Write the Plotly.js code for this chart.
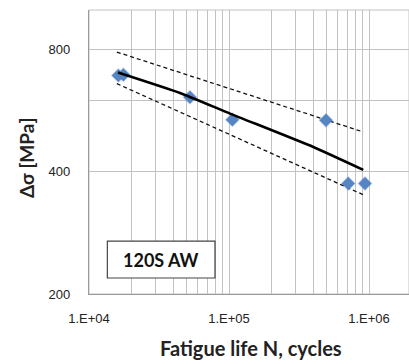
<!DOCTYPE html>
<html>
<head>
<meta charset="utf-8">
<script src="https://cdn.plot.ly/plotly-3.0.1.min.js"></script>
<style>html,body{margin:0;padding:0;background:#fff;}#chart{width:409px;height:364px;}</style>
</head>
<body>
<div id="chart"></div>
<script>
// Test data (cycles, stress range MPa)
const testN = [16200, 17600, 52600, 105700, 493000, 711000, 936000];
const testS = [690, 693, 610, 537, 535, 374, 374];
// Mean S-N curve
const meanN = [16100, 44700, 101700, 400000, 910000];
const meanS = [702, 625, 556, 460, 404];
// Scatter band limits
const upperN = [15800, 910000];
const upperS = [788, 501];
const lowerN = [15800, 910000];
const lowerS = [659, 351];
// Axis ticks
const xTickVals = [1e4,2e4,3e4,4e4,5e4,6e4,7e4,8e4,9e4,1e5,2e5,3e5,4e5,5e5,6e5,7e5,8e5,9e5,1e6,2e6];
const xTickText = ['1.E+04','','','','','','','','','1.E+05','','','','','','','','','1.E+06',''];
const yTickVals = [200, 400, 600, 800, 1000];
const yTickText = ['200', '400', '', '800', ''];
const boxLabel = '120S AW';
const xTitle = 'Fatigue life N, cycles';
const yTitle = 'Δσ [MPa]';

const traces = [
  {x: upperN, y: upperS, mode: 'lines', line: {color: '#111', width: 1.3, dash: '4px,3px'}, hoverinfo: 'skip'},
  {x: lowerN, y: lowerS, mode: 'lines', line: {color: '#111', width: 1.3, dash: '4px,3px'}, hoverinfo: 'skip'},
  {x: testN, y: testS, mode: 'markers', marker: {symbol: 'diamond', size: 10, color: '#5585c2', line: {color: 'rgba(85,133,194,0.35)', width: 1.5}}},
  {x: meanN, y: meanS, mode: 'lines', line: {color: '#000', width: 2.6, shape: 'spline', smoothing: 0.5}, hoverinfo: 'skip'}
];

const layout = {
  width: 409, height: 364,
  margin: {l: 89, r: 0, t: 10, b: 70},
  paper_bgcolor: '#fff', plot_bgcolor: '#fff',
  showlegend: false,
  font: {family: 'Liberation Sans, Arial, sans-serif', size: 13, color: '#222'},
  xaxis: {
    type: 'log', range: [4, 6.2857],
    tickvals: xTickVals, ticktext: xTickText,
    showgrid: true, gridcolor: '#c2c2c2', gridwidth: 1,
    showline: true, linecolor: '#9a9a9a', linewidth: 1.2,
    ticks: 'outside', ticklen: 12, tickcolor: 'rgba(0,0,0,0)',
    tickfont: {size: 13, color: '#222'},
    zeroline: false
  },
  yaxis: {
    type: 'log', range: [Math.log10(200), Math.log10(1000)],
    tickvals: yTickVals, ticktext: yTickText,
    showgrid: true, gridcolor: '#c2c2c2', gridwidth: 1,
    showline: true, linecolor: '#9a9a9a', linewidth: 1.2,
    ticks: 'outside', ticklen: 15, tickcolor: 'rgba(0,0,0,0)',
    tickfont: {size: 13, color: '#222'},
    zeroline: false
  },
  shapes: [
    {type: 'rect', xref: 'paper', yref: 'paper', x0: 0, x1: 1, y0: 0, y1: 1, line: {color: '#c2c2c2', width: 1}, layer: 'below'},
    {type: 'rect', xref: 'x', yref: 'y', x0: 13520, x1: 79400, y0: 219, y1: 270, fillcolor: '#fff', line: {color: '#444', width: 1.2}, layer: 'above'}
  ],
  annotations: [
    {xref: 'x', yref: 'y', x: Math.log10(Math.sqrt(13520*79400)), y: Math.log10(Math.sqrt(219*270)), text: '<b>' + boxLabel + '</b>', showarrow: false,
     font: {family: 'Lato, sans-serif', size: 18, color: '#111'}},
    {xref: 'paper', yref: 'paper', x: 0.506, y: -0.19, yanchor: 'middle', xanchor: 'center', text: '<b>' + xTitle + '</b>', showarrow: false,
     font: {family: 'Lato, sans-serif', size: 20, color: '#222'}},
    {xref: 'paper', yref: 'paper', x: (26 - 89) / 320, y: (294 - 158) / 284, xanchor: 'center', yanchor: 'middle', textangle: -90, text: '<b>' + yTitle + '</b>', showarrow: false,
     font: {family: 'Lato, sans-serif', size: 19, color: '#222'}}
  ]
};

Plotly.newPlot('chart', traces, layout, {displayModeBar: false, staticPlot: true});
</script>
</body>
</html>
